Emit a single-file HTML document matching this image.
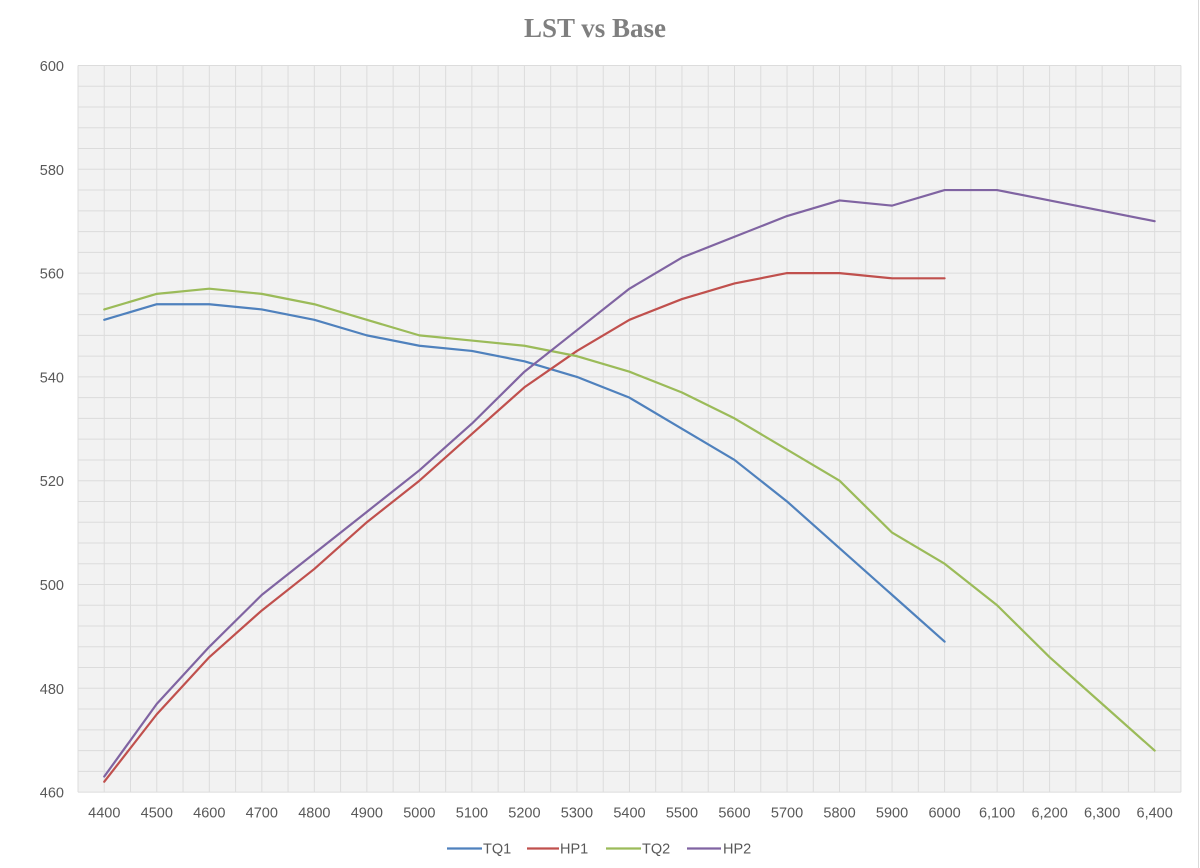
<!DOCTYPE html>
<html>
<head>
<meta charset="utf-8">
<style>
html,body{margin:0;padding:0;background:#fff;}
svg{display:block;}
text{font-family:"Liberation Sans",Arial,sans-serif;fill:#595959;}
</style>
</head>
<body>
<svg width="1200" height="868" viewBox="0 0 1200 868" xmlns="http://www.w3.org/2000/svg">
<rect x="0" y="0" width="1200" height="868" fill="#ffffff"/>
<line x1="1198.5" y1="0" x2="1198.5" y2="868" stroke="#d9d9d9" stroke-width="1"/>
<text x="595" y="37" text-anchor="middle" style="font-family:'Liberation Serif',serif;font-weight:bold;font-size:27px;fill:#7f7f7f;">LST vs Base</text>

<rect x="78" y="65.5" width="1103" height="726.6" fill="#f2f2f2"/>

<g transform="matrix(52.52 0 0 -5.19 104.26 3179.5)" fill="none">
<path vector-effect="non-scaling-stroke" stroke="#dcdcdc" stroke-width="1" d="M-0.5,460H20.5M-0.5,464H20.5M-0.5,468H20.5M-0.5,472H20.5M-0.5,476H20.5M-0.5,480H20.5M-0.5,484H20.5M-0.5,488H20.5M-0.5,492H20.5M-0.5,496H20.5M-0.5,500H20.5M-0.5,504H20.5M-0.5,508H20.5M-0.5,512H20.5M-0.5,516H20.5M-0.5,520H20.5M-0.5,524H20.5M-0.5,528H20.5M-0.5,532H20.5M-0.5,536H20.5M-0.5,540H20.5M-0.5,544H20.5M-0.5,548H20.5M-0.5,552H20.5M-0.5,556H20.5M-0.5,560H20.5M-0.5,564H20.5M-0.5,568H20.5M-0.5,572H20.5M-0.5,576H20.5M-0.5,580H20.5M-0.5,584H20.5M-0.5,588H20.5M-0.5,592H20.5M-0.5,596H20.5M-0.5,600H20.5
M-0.5,460V600M0,460V600M0.5,460V600M1,460V600M1.5,460V600M2,460V600M2.5,460V600M3,460V600M3.5,460V600M4,460V600M4.5,460V600M5,460V600M5.5,460V600M6,460V600M6.5,460V600M7,460V600M7.5,460V600M8,460V600M8.5,460V600M9,460V600M9.5,460V600M10,460V600M10.5,460V600M11,460V600M11.5,460V600M12,460V600M12.5,460V600M13,460V600M13.5,460V600M14,460V600M14.5,460V600M15,460V600M15.5,460V600M16,460V600M16.5,460V600M17,460V600M17.5,460V600M18,460V600M18.5,460V600M19,460V600M19.5,460V600M20,460V600M20.5,460V600"/>

<polyline vector-effect="non-scaling-stroke" stroke="#4f81bd" stroke-width="2.2" stroke-linejoin="round" stroke-linecap="round" points="0,551 1,554 2,554 3,553 4,551 5,548 6,546 7,545 8,543 9,540 10,536 11,530 12,524 13,516 14,507 15,498 16,489"/>
<polyline vector-effect="non-scaling-stroke" stroke="#c0504d" stroke-width="2.2" stroke-linejoin="round" stroke-linecap="round" points="0,462 1,475 2,486 3,495 4,503 5,512 6,520 7,529 8,538 9,545 10,551 11,555 12,558 13,560 14,560 15,559 16,559"/>
<polyline vector-effect="non-scaling-stroke" stroke="#9bbb59" stroke-width="2.2" stroke-linejoin="round" stroke-linecap="round" points="0,553 1,556 2,557 3,556 4,554 5,551 6,548 7,547 8,546 9,544 10,541 11,537 12,532 13,526 14,520 15,510 16,504 17,496 18,486 19,477 20,468"/>
<polyline vector-effect="non-scaling-stroke" stroke="#8064a2" stroke-width="2.2" stroke-linejoin="round" stroke-linecap="round" points="0,463 1,477 2,488 3,498 4,506 5,514 6,522 7,531 8,541 9,549 10,557 11,563 12,567 13,571 14,574 15,573 16,576 17,576 18,574 19,572 20,570"/>
</g>

<g style="font-size:14.5px" text-anchor="end">
<text x="64" y="71">600</text>
<text x="64" y="174.8">580</text>
<text x="64" y="278.6">560</text>
<text x="64" y="382.4">540</text>
<text x="64" y="486.2">520</text>
<text x="64" y="590">500</text>
<text x="64" y="693.8">480</text>
<text x="64" y="797.6">460</text>
</g>

<g style="font-size:14.5px" text-anchor="middle">
<text x="104.26" y="817.5">4400</text>
<text x="156.78" y="817.5">4500</text>
<text x="209.3" y="817.5">4600</text>
<text x="261.82" y="817.5">4700</text>
<text x="314.34" y="817.5">4800</text>
<text x="366.86" y="817.5">4900</text>
<text x="419.38" y="817.5">5000</text>
<text x="471.9" y="817.5">5100</text>
<text x="524.42" y="817.5">5200</text>
<text x="576.94" y="817.5">5300</text>
<text x="629.46" y="817.5">5400</text>
<text x="681.98" y="817.5">5500</text>
<text x="734.5" y="817.5">5600</text>
<text x="787.02" y="817.5">5700</text>
<text x="839.54" y="817.5">5800</text>
<text x="892.06" y="817.5">5900</text>
<text x="944.58" y="817.5">6000</text>
<text x="997.1" y="817.5">6,100</text>
<text x="1049.62" y="817.5">6,200</text>
<text x="1102.14" y="817.5">6,300</text>
<text x="1154.66" y="817.5">6,400</text>
</g>

<g style="font-size:14.5px">
<line x1="447" y1="848.5" x2="482" y2="848.5" stroke="#4f81bd" stroke-width="2.2"/>
<text x="483" y="853.5">TQ1</text>
<line x1="527" y1="848.5" x2="559" y2="848.5" stroke="#c0504d" stroke-width="2.2"/>
<text x="560" y="853.5">HP1</text>
<line x1="606" y1="848.5" x2="641" y2="848.5" stroke="#9bbb59" stroke-width="2.2"/>
<text x="642" y="853.5">TQ2</text>
<line x1="687" y1="848.5" x2="721" y2="848.5" stroke="#8064a2" stroke-width="2.2"/>
<text x="723" y="853.5">HP2</text>
</g>
</svg>
</body>
</html>
